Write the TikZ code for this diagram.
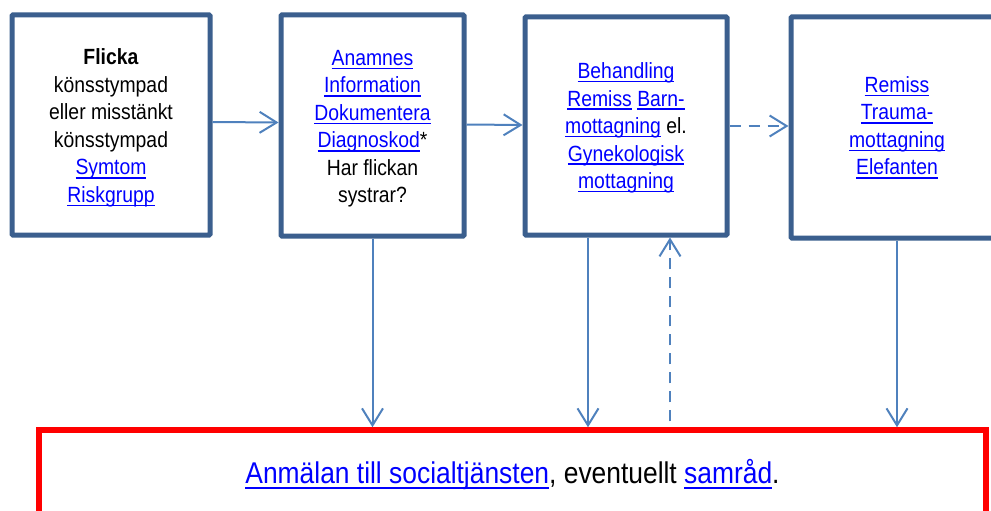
\documentclass[tikz,border=0pt]{standalone}
\usepackage{fontspec}
\setmainfont[FakeStretch=0.88]{Liberation Sans}
\usetikzlibrary{arrows.meta}
\definecolor{boxblue}{HTML}{3B5F8E}
\definecolor{arrblue}{HTML}{4F81BD}
\definecolor{linkblue}{HTML}{0000FF}
\definecolor{redline}{HTML}{FF0000}
\newcommand{\lnk}[1]{{\color{linkblue}\setbox0\hbox{#1}\rlap{\rule[-0.17em]{\wd0}{0.068em}}\box0}}
\tikzset{
  flowbox/.style={draw=boxblue, line width=5pt, fill=white, align=center,
    inner sep=0pt, rounded corners=1pt,
    font=\fontsize{22}{27.5}\selectfont},
  redbox/.style={draw=redline, line width=5.5pt, fill=white, align=center,
    inner sep=0pt, font=\fontsize{30}{36}\selectfont},
  arr/.style={draw=arrblue, line width=2pt,
    -{Straight Barb[length=17pt, width=21pt, line width=2pt]}},
  dasharr/.style={arr, dash pattern=on 11pt off 8pt},
}
\begin{document}
\begin{tikzpicture}[x=1pt, y=-1pt]
\useasboundingbox (0,0) rectangle (991,511);
\node[flowbox, minimum width=198pt, minimum height=220pt] (b1) at (111,125)
  {\rule{0pt}{22pt}\textbf{Flicka}\\könsstympad\\eller misstänkt\\könsstympad\\\lnk{Symtom}\\\lnk{Riskgrupp}};
\node[flowbox, minimum width=183pt, minimum height=221pt] (b2) at (372.5,125.5)
  {\rule{0pt}{22pt}\lnk{Anamnes}\\\lnk{Information}\\\lnk{Dokumentera}\\\lnk{Diagnoskod}*\\Har flickan\\systrar?};
\node[flowbox, minimum width=202pt, minimum height=218pt] (b3) at (626,126)
  {\rule{0pt}{20pt}\lnk{Behandling}\\\lnk{Remiss} \lnk{Barn-}\\\lnk{mottagning} el.\\\lnk{Gynekologisk}\\\lnk{mottagning}};
\node[flowbox, minimum width=212pt, minimum height=221pt] (b4) at (897,127.5)
  {\lnk{Remiss}\\\lnk{Trauma-}\\\lnk{mottagning}\\\lnk{Elefanten}};
\node[redbox, minimum width=947pt, minimum height=90pt] (red) at (512.5,475)
  {\lnk{Anmälan till socialtjänsten}, eventuellt \lnk{samråd}.};
\coordinate (c3) at ([xshift=-38pt]b3.south);
\coordinate (c3u) at ([xshift=44pt]b3.south);
\draw[arr] ([yshift=3pt]b1.east) -- ([yshift=3pt]b2.west);
\draw[arr] ([yshift=1pt]b2.east) -- ([yshift=1pt]b3.west);
\draw[dasharr] (b3.east) -- (b4.west |- b3.east);
\draw[arr] (b2.south) -- (b2.south |- red.north);
\draw[arr] (c3) -- (c3 |- red.north);
\draw[dasharr] ([yshift=6pt]c3u |- red.north) -- (c3u);
\draw[arr] (b4.south) -- (b4.south |- red.north);
\end{tikzpicture}
\end{document}
